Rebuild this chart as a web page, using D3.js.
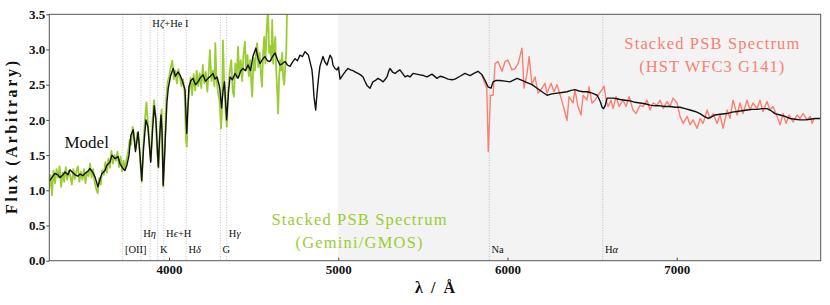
<!DOCTYPE html>
<html>
<head>
<meta charset="utf-8">
<script src="https://cdn.jsdelivr.net/npm/d3@7"></script>
<style>
  html, body { margin: 0; padding: 0; background: #fff; }
  svg { display: block; font-family: "Liberation Serif", "DejaVu Serif", serif; }
</style>
</head>
<body>
<div id="chart"></div>
<script>
// model spectrum (black)
const modelWave = [3291, 3297, 3314, 3326, 3344, 3356, 3374, 3385, 3403, 3415, 3433, 3445, 3462, 3474, 3492, 3504, 3521, 3533, 3551, 3563,
  3580, 3592, 3604, 3622, 3634, 3651, 3663, 3681, 3699, 3710, 3728, 3740, 3752, 3764, 3775, 3789, 3802, 3818, 3829, 3839,
  3850, 3864, 3876, 3892, 3903, 3913, 3923, 3937, 3944, 3953, 3959, 3966, 3976, 3988, 3996, 4009, 4025, 4038, 4053, 4065,
  4080, 4095, 4105, 4118, 4130, 4142, 4157, 4171, 4186, 4201, 4216, 4231, 4245, 4260, 4272, 4284, 4296, 4301, 4311, 4319,
  4328, 4341, 4352, 4361, 4375, 4390, 4408, 4423, 4437, 4452, 4467, 4482, 4496, 4514, 4526, 4538, 4553, 4567, 4582, 4597,
  4612, 4627, 4642, 4656, 4671, 4686, 4700, 4715, 4730, 4745, 4759, 4774, 4789, 4804, 4816, 4824, 4836, 4845, 4851, 4857,
  4867, 4875, 4884, 4892, 4910, 4922, 4934, 4952, 4963, 4969, 4981, 4993, 5002, 5011, 5028, 5043, 5058, 5073, 5087, 5102,
  5117, 5132, 5147, 5158, 5170, 5188, 5205, 5220, 5235, 5250, 5265, 5276, 5288, 5300, 5306, 5321, 5336, 5351, 5365, 5380,
  5395, 5410, 5424, 5442, 5463, 5483, 5504, 5525, 5554, 5584, 5602, 5619, 5649, 5673, 5690, 5720, 5749, 5779, 5802, 5826,
  5850, 5868, 5885, 5903, 5915, 5933, 5956, 5986, 6015, 6039, 6057, 6086, 6116, 6145, 6175, 6204, 6234, 6263, 6293, 6323,
  6352, 6376, 6399, 6423, 6447, 6470, 6488, 6512, 6530, 6541, 6550, 6559, 6568, 6577, 6589, 6607, 6625, 6648, 6666, 6695,
  6725, 6754, 6784, 6813, 6843, 6873, 6902, 6931, 6961, 6991, 7020, 7050, 7079, 7109, 7138, 7162, 7186, 7203, 7227, 7256,
  7298, 7327, 7357, 7386, 7416, 7445, 7475, 7505, 7534, 7558, 7581, 7611, 7640, 7670, 7700, 7729, 7759, 7789, 7818, 7848];
const modelFlux = [1.14, 1.14, 1.20, 1.24, 1.22, 1.18, 1.22, 1.26, 1.22, 1.29, 1.25, 1.22, 1.20, 1.23, 1.21, 1.24, 1.27, 1.31, 1.25, 1.19,
  1.05, 1.15, 1.24, 1.28, 1.36, 1.40, 1.50, 1.45, 1.48, 1.38, 1.31, 1.28, 1.36, 1.50, 1.78, 1.86, 1.55, 1.83, 1.50, 1.14,
  1.60, 2.00, 1.90, 1.40, 1.85, 2.20, 2.00, 1.33, 1.70, 2.07, 1.85, 1.07, 1.60, 2.25, 2.45, 2.62, 2.73, 2.62, 2.68, 2.64,
  2.55, 2.43, 1.81, 2.47, 2.56, 2.59, 2.50, 2.54, 2.60, 2.64, 2.55, 2.59, 2.62, 2.66, 2.58, 2.61, 2.50, 2.43, 2.17, 2.40,
  2.54, 2.00, 2.40, 2.61, 2.57, 2.66, 2.59, 2.69, 2.73, 2.70, 2.78, 2.70, 2.90, 3.02, 2.88, 2.80, 2.86, 2.90, 2.84, 2.83,
  2.90, 2.95, 2.85, 2.78, 2.80, 2.83, 2.78, 2.76, 2.82, 2.87, 2.84, 2.92, 2.90, 2.97, 2.94, 2.92, 2.80, 2.71, 2.55, 2.33,
  2.14, 2.38, 2.60, 2.76, 2.90, 2.82, 2.78, 2.92, 2.87, 2.78, 2.73, 2.71, 2.75, 2.58, 2.64, 2.69, 2.73, 2.71, 2.70, 2.68,
  2.66, 2.64, 2.61, 2.55, 2.49, 2.45, 2.54, 2.56, 2.59, 2.57, 2.54, 2.57, 2.61, 2.70, 2.73, 2.68, 2.66, 2.69, 2.71, 2.66,
  2.61, 2.63, 2.61, 2.66, 2.65, 2.64, 2.63, 2.61, 2.65, 2.59, 2.62, 2.61, 2.58, 2.57, 2.58, 2.62, 2.66, 2.63, 2.66, 2.69,
  2.64, 2.56, 2.47, 2.45, 2.54, 2.56, 2.56, 2.55, 2.54, 2.57, 2.59, 2.56, 2.53, 2.50, 2.45, 2.40, 2.35, 2.37, 2.38, 2.39,
  2.40, 2.42, 2.43, 2.41, 2.40, 2.40, 2.39, 2.37, 2.35, 2.30, 2.25, 2.18, 2.16, 2.20, 2.31, 2.31, 2.31, 2.30, 2.29, 2.28,
  2.27, 2.25, 2.24, 2.23, 2.21, 2.20, 2.20, 2.19, 2.19, 2.18, 2.18, 2.16, 2.14, 2.12, 2.09, 2.05, 2.02, 2.04, 2.07, 2.08,
  2.09, 2.11, 2.12, 2.13, 2.14, 2.15, 2.15, 2.16, 2.16, 2.13, 2.09, 2.07, 2.05, 2.02, 2.01, 2.00, 2.00, 2.01, 2.02, 2.02];

// Gemini/GMOS stack (green)
const gmosWave = [3291, 3300, 3309, 3318, 3327, 3336, 3345, 3354, 3363, 3372, 3381, 3390, 3399, 3408, 3417, 3426, 3435, 3444, 3453, 3462,
  3471, 3480, 3489, 3498, 3507, 3516, 3525, 3534, 3543, 3552, 3561, 3570, 3579, 3588, 3597, 3606, 3615, 3624, 3633, 3642,
  3651, 3660, 3669, 3678, 3687, 3696, 3705, 3714, 3723, 3732, 3741, 3750, 3759, 3768, 3777, 3786, 3795, 3804, 3813, 3822,
  3831, 3840, 3849, 3858, 3867, 3876, 3885, 3894, 3903, 3912, 3921, 3930, 3939, 3948, 3957, 3966, 3975, 3984, 3993, 4002,
  4011, 4020, 4029, 4038, 4047, 4056, 4065, 4074, 4083, 4092, 4101, 4106, 4110, 4119, 4128, 4137, 4146, 4155, 4164, 4173,
  4182, 4191, 4200, 4209, 4218, 4227, 4236, 4242, 4251, 4260, 4269, 4274, 4281, 4290, 4299, 4308, 4314, 4319, 4326, 4335,
  4342, 4350, 4359, 4368, 4377, 4384, 4392, 4401, 4408, 4416, 4424, 4433, 4441, 4449, 4456, 4464, 4472, 4480, 4487, 4492,
  4500, 4508, 4516, 4521, 4528, 4536, 4544, 4550, 4556, 4563, 4570, 4577, 4585, 4592, 4599, 4606, 4610, 4616, 4622, 4628,
  4634, 4640, 4645, 4651, 4657, 4663, 4669, 4675, 4681, 4687, 4693, 4698];
const gmosFlux = [1.00, 1.22, 0.93, 1.28, 1.10, 1.30, 1.18, 1.34, 1.05, 1.25, 1.12, 1.33, 1.15, 1.28, 1.20, 1.08, 1.30, 1.16, 1.27, 1.34,
  1.12, 1.26, 1.15, 1.30, 1.10, 1.27, 1.20, 1.38, 1.18, 1.30, 1.12, 1.02, 0.96, 1.18, 1.08, 1.28, 1.22, 1.40, 1.25, 1.45,
  1.32, 1.56, 1.38, 1.50, 1.42, 1.55, 1.33, 1.48, 1.27, 1.42, 1.30, 1.45, 1.55, 1.72, 1.65, 1.90, 1.75, 1.58, 1.82, 1.70,
  1.38, 1.12, 1.65, 2.00, 2.25, 1.92, 1.65, 1.42, 2.00, 2.28, 2.05, 1.55, 1.32, 1.95, 2.15, 1.05, 1.55, 2.30, 2.55, 2.62,
  2.75, 2.84, 2.58, 2.70, 2.52, 2.72, 2.60, 2.48, 2.58, 2.40, 1.70, 1.62, 2.15, 2.40, 2.60, 2.35, 2.65, 2.42, 2.70, 2.48,
  2.66, 2.45, 2.78, 2.52, 2.68, 2.40, 2.72, 2.99, 2.55, 2.70, 2.48, 3.09, 2.60, 2.38, 2.28, 1.88, 2.20, 3.13, 2.55, 2.10,
  1.90, 2.40, 2.68, 2.85, 2.40, 2.33, 2.80, 2.60, 3.04, 2.62, 2.85, 2.55, 2.95, 3.11, 2.70, 2.92, 2.62, 2.85, 2.50, 2.33,
  2.88, 2.70, 3.00, 3.09, 2.75, 2.95, 2.62, 2.47, 2.95, 3.18, 2.80, 3.25, 3.60, 2.95, 3.05, 2.85, 3.42, 2.80, 3.05, 3.18,
  2.70, 2.40, 2.09, 2.60, 2.85, 2.70, 2.95, 2.60, 2.50, 2.75, 2.95, 3.60];

// HST WFC3 G141 stack (salmon)
const hstWave = [5848, 5862, 5878, 5887, 5900, 5915, 5927, 5944, 5968, 5986, 6003, 6027, 6045, 6063, 6086, 6098, 6116, 6128, 6145, 6163,
  6181, 6204, 6222, 6234, 6258, 6275, 6293, 6317, 6334, 6352, 6364, 6388, 6399, 6417, 6435, 6447, 6470, 6482, 6500, 6518,
  6535, 6559, 6571, 6583, 6595, 6612, 6624, 6642, 6660, 6683, 6701, 6719, 6742, 6760, 6784, 6801, 6825, 6843, 6861, 6884,
  6902, 6920, 6943, 6961, 6979, 7002, 7020, 7038, 7062, 7079, 7097, 7121, 7138, 7156, 7180, 7197, 7215, 7239, 7256, 7274,
  7298, 7315, 7333, 7357, 7374, 7392, 7416, 7433, 7451, 7475, 7492, 7510, 7534, 7551, 7569, 7593, 7611, 7629, 7646, 7664,
  7688, 7711, 7729, 7747, 7771, 7789, 7800, 7812];
const hstFlux = [2.64, 2.55, 2.45, 1.55, 2.35, 2.35, 2.80, 2.83, 2.69, 2.83, 2.85, 2.71, 2.73, 2.80, 3.02, 2.45, 2.66, 2.90, 2.50, 2.61,
  2.38, 2.45, 2.52, 2.38, 2.52, 2.40, 2.50, 2.31, 2.16, 1.99, 2.33, 2.24, 2.43, 2.19, 2.07, 2.35, 2.28, 2.47, 2.24, 2.28,
  2.35, 2.43, 2.48, 2.28, 2.19, 2.28, 2.16, 2.33, 2.19, 2.28, 2.19, 2.33, 2.14, 2.09, 2.21, 2.19, 2.28, 2.14, 2.24, 2.21,
  2.28, 2.16, 2.26, 2.19, 2.31, 2.24, 2.05, 1.95, 2.05, 1.93, 2.00, 1.88, 2.02, 1.95, 2.14, 2.02, 2.09, 1.95, 2.07, 1.88,
  2.14, 2.02, 2.28, 2.07, 2.24, 2.09, 2.28, 2.14, 2.24, 2.16, 2.28, 2.12, 2.26, 2.14, 2.19, 2.05, 1.93, 2.09, 1.95, 2.07,
  1.97, 2.07, 2.02, 2.09, 2.00, 2.05, 1.95, 2.02];

// spectral features
const lineNames = ["[OII]", "Hη", "Hζ+He I", "K", "Hϵ+H", "Hδ", "G", "Hγ", "Na", "Hα"];
const lineWave = [3727, 3835, 3889, 3934, 3970, 4102, 4304, 4341, 5893, 6563];

const xTicks = [4000, 5000, 6000, 7000];
const yTicks = [0.0, 0.5, 1.0, 1.5, 2.0, 2.5, 3.0, 3.5];
const xDomain = [3293, 7851];
const yDomain = [0, 3.5];
const hstStart = 5000;

const W = 830, H = 305;
const margin = { top: 14.3, right: 9.3, bottom: 44.3, left: 49.3 };
const width = W - margin.left - margin.right;
const height = H - margin.top - margin.bottom;

const svg = d3.select("#chart").append("svg")
    .attr("width", W)
    .attr("height", H);

const g = svg.append("g")
    .attr("transform", `translate(${margin.left},${margin.top})`);

g.append("defs").append("clipPath")
    .attr("id", "plot-clip")
    .append("rect")
    .attr("width", width)
    .attr("height", height);

const x = d3.scaleLinear().domain(xDomain).range([0, width]);
const y = d3.scaleLinear().domain(yDomain).range([height, 0]);

const plot = g.append("g").attr("clip-path", "url(#plot-clip)");

// grey band for the HST part
plot.append("rect")
    .attr("x", x(hstStart))
    .attr("y", 0)
    .attr("width", x(xDomain[1]) - x(hstStart))
    .attr("height", height)
    .attr("fill", "#f3f3f3");

plot.selectAll("line.feature")
    .data(lineWave)
    .join("line")
    .attr("class", "feature")
    .attr("x1", d => x(d)).attr("x2", d => x(d))
    .attr("y1", 0).attr("y2", height)
    .attr("stroke", "#b4b4b4")
    .attr("stroke-width", 0.9)
    .attr("stroke-dasharray", "1,1.6");

const line = d3.line()
    .x(d => x(d[0]))
    .y(d => y(d[1]));

const zip = (a, b) => a.map((v, i) => [v, b[i]]);

plot.append("path")
    .datum(zip(gmosWave, gmosFlux))
    .attr("d", line)
    .attr("fill", "none")
    .attr("stroke", "#9acd32")
    .attr("stroke-width", 1.8)
    .attr("stroke-linejoin", "round");

plot.append("path")
    .datum(zip(hstWave, hstFlux))
    .attr("d", line)
    .attr("fill", "none")
    .attr("stroke", "#fa8072")
    .attr("stroke-width", 1.4)
    .attr("stroke-linejoin", "round");

plot.append("path")
    .datum(zip(modelWave, modelFlux))
    .attr("d", line)
    .attr("fill", "none")
    .attr("stroke", "#111")
    .attr("stroke-width", 1.4)
    .attr("stroke-linejoin", "round");

// feature labels, greek letters in italics
function greekText(sel, str) {
    str.split(/([α-ωϵ])/).filter(s => s.length).forEach(s => {
        sel.append("tspan")
            .attr("font-style", /[α-ωϵ]/.test(s) ? "italic" : null)
            .text(s);
    });
}
const labelRow = { "[OII]": 2, "Hη": 1, "Hζ+He I": 0, "K": 2, "Hϵ+H": 1, "Hδ": 2, "G": 2, "Hγ": 1, "Na": 2, "Hα": 2 };
const rowY = [13, 222.4, 239];
lineNames.forEach((name, i) => {
    const t = g.append("text")
        .attr("x", x(lineWave[i]) + 2.2)
        .attr("y", rowY[labelRow[name]])
        .attr("font-size", 10.5)
        .attr("fill", "#111");
    greekText(t, name);
});

// axes
const xAxis = g.append("g")
    .attr("transform", `translate(0,${height})`)
    .call(d3.axisBottom(x).tickValues(xTicks).tickSize(-3).tickPadding(4).tickFormat(d3.format("d")));
const yAxis = g.append("g")
    .call(d3.axisLeft(y).tickValues(yTicks).tickSize(3).tickPadding(1).tickFormat(d3.format(".1f")));

[xAxis, yAxis].forEach(a => {
    a.select(".domain").remove();
    a.selectAll(".tick line").attr("stroke", "#444");
    a.selectAll(".tick text")
        .attr("font-family", "Liberation Serif")
        .attr("font-weight", "bold")
        .attr("font-size", 13)
        .attr("fill", "#111");
});

g.append("rect")
    .attr("width", width)
    .attr("height", height)
    .attr("fill", "none")
    .attr("stroke", "#555")
    .attr("stroke-width", 1);

// axis titles
svg.append("text")
    .attr("transform", `translate(17,${margin.top + height / 2}) rotate(-90)`)
    .attr("text-anchor", "middle")
    .attr("font-weight", "bold")
    .attr("font-size", 16)
    .attr("textLength", 153)
    .attr("lengthAdjust", "spacing")
    .attr("fill", "#111")
    .text("Flux (Arbitrary)");

svg.append("text")
    .attr("x", margin.left + width / 2)
    .attr("y", 293)
    .attr("text-anchor", "middle")
    .attr("font-weight", "bold")
    .attr("font-size", 16)
    .attr("textLength", 40)
    .attr("lengthAdjust", "spacing")
    .attr("fill", "#111")
    .text("λ / Å");

// series annotations
svg.append("text")
    .attr("x", 86.7).attr("y", 148.3)
    .attr("text-anchor", "middle")
    .attr("font-size", 17)
    .attr("fill", "#111")
    .text("Model");

const notes = [
    { text: ["Stacked PSB Spectrum", "(Gemini/GMOS)"], cx: 359, y: [225, 248], color: "#9acd32", len: [175, 127] },
    { text: ["Stacked PSB Spectrum", "(HST WFC3 G141)"], cx: 711.8, y: [49.3, 71.7], color: "#fa8072", len: [175, 145] }
];
notes.forEach(n => {
    n.text.forEach((s, i) => {
        svg.append("text")
            .attr("x", n.cx).attr("y", n.y[i])
            .attr("text-anchor", "middle")
            .attr("font-size", 16.5)
            .attr("textLength", n.len[i])
            .attr("lengthAdjust", "spacing")
            .attr("fill", n.color)
            .text(s);
    });
});
</script>
</body>
</html>
